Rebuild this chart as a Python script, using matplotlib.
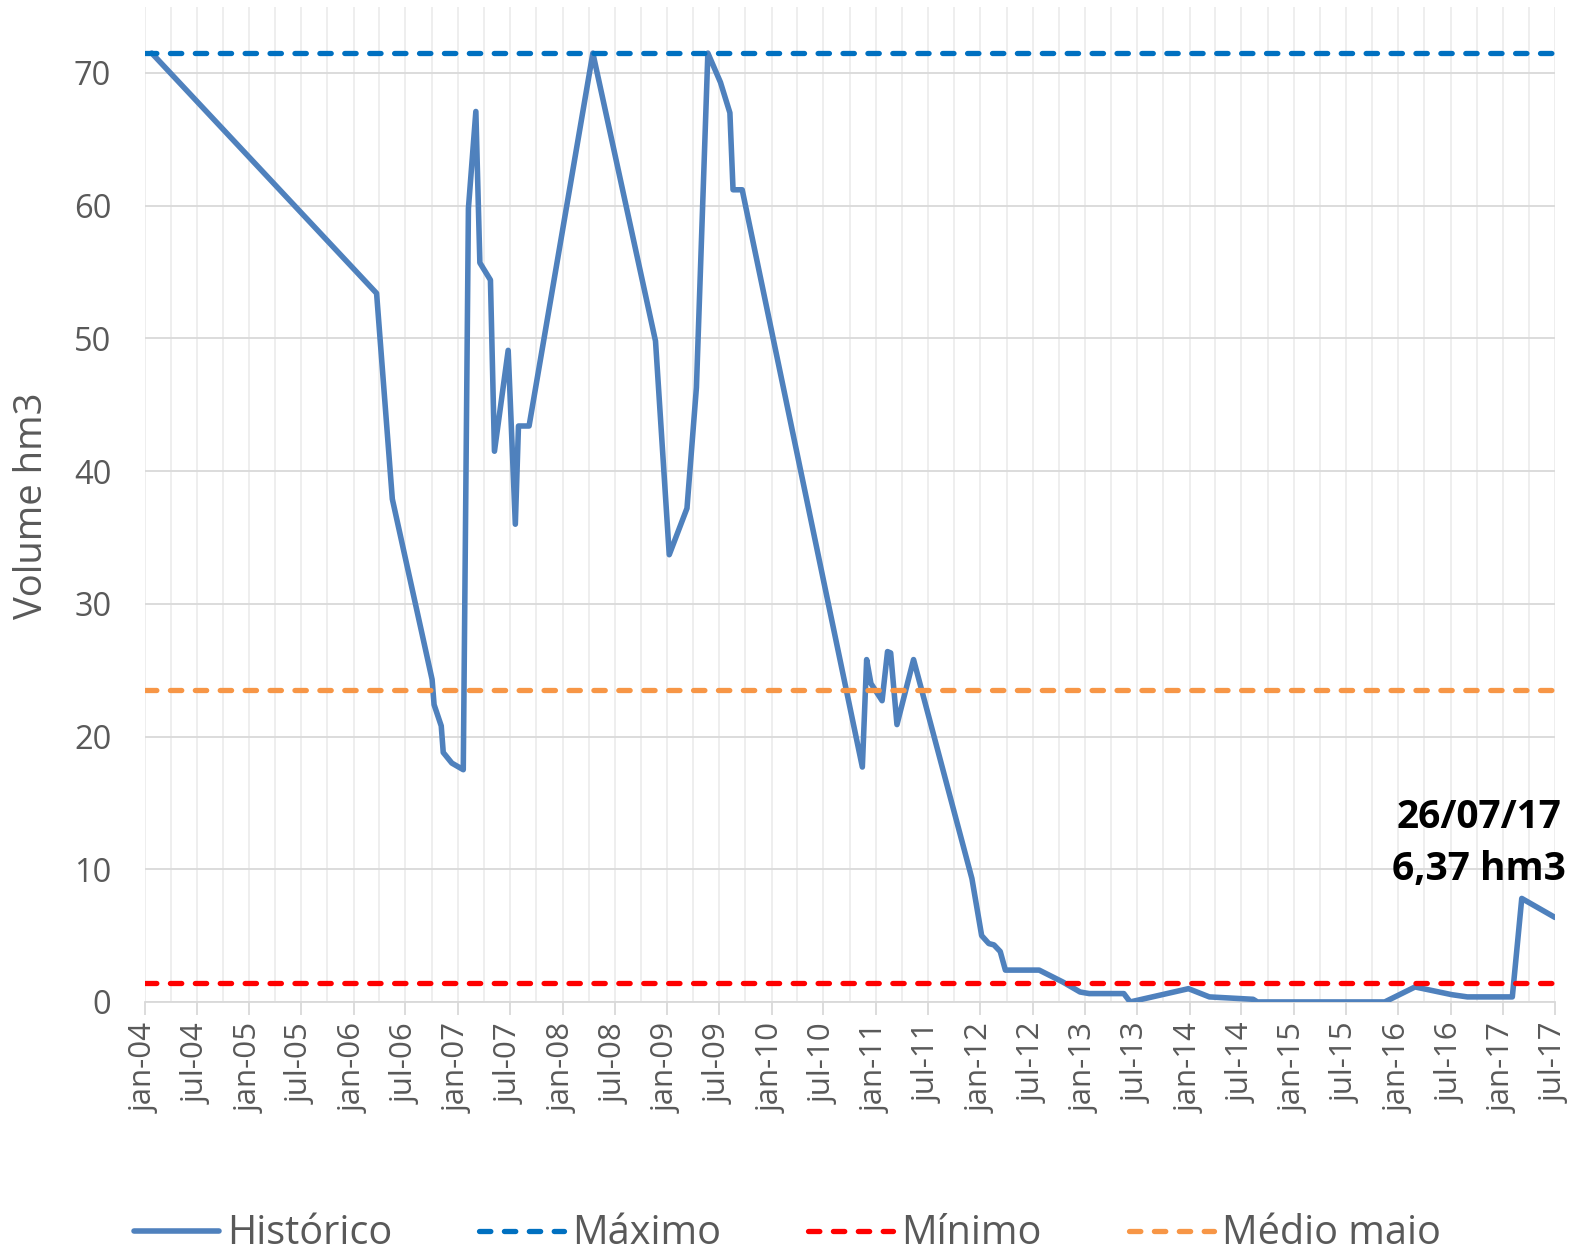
import matplotlib
matplotlib.use("Agg")
import matplotlib.pyplot as plt
import pandas as pd

# ---------------- data ----------------
hist_dates = [
    "2004-02-20", "2006-04-16", "2006-06-10", "2006-10-27", "2006-11-03",
    "2006-11-28", "2006-12-05", "2007-01-04", "2007-02-13", "2007-03-03",
    "2007-03-29", "2007-04-12", "2007-05-19", "2007-06-02", "2007-07-20",
    "2007-08-14", "2007-08-25", "2007-10-01", "2008-05-11", "2008-12-16",
    "2009-02-02", "2009-04-05", "2009-05-08", "2009-06-17", "2009-07-31",
    "2009-09-02", "2009-09-13", "2009-10-15", "2010-12-09", "2010-12-24",
    "2011-01-08", "2011-02-16", "2011-03-07", "2011-03-18", "2011-04-09",
    "2011-06-06", "2011-12-27", "2012-01-30", "2012-02-24", "2012-03-13",
    "2012-04-04", "2012-04-22", "2012-08-18", "2012-11-09", "2013-01-08",
    "2013-02-09", "2013-06-10", "2013-07-02", "2014-01-22", "2014-04-05",
    "2014-09-05", "2014-09-20", "2015-12-09", "2016-03-24", "2016-07-30",
    "2016-09-23", "2017-02-27", "2017-04-01", "2017-07-26",
]
hist_values = [
    71.5, 53.4, 37.9, 24.3, 22.4,
    20.8, 18.8, 18.0, 17.5, 59.8,
    67.1, 55.7, 54.4, 41.5, 49.1,
    36.0, 43.4, 43.4, 71.5, 49.8,
    33.7, 37.2, 46.3, 71.5, 69.3,
    67.0, 61.2, 61.2, 17.7, 25.8,
    24.0, 22.7, 26.4, 26.3, 20.9,
    25.8, 9.3, 5.0, 4.4, 4.3,
    3.8, 2.4, 2.4, 1.5, 0.75,
    0.63, 0.63, 0.0, 1.0, 0.38,
    0.2, 0.0, 0.0, 1.13, 0.55,
    0.38, 0.38, 7.8, 6.37,
]
maximo = 71.5
minimo = 1.4
medio_maio = 23.5
axis_start = "2004-01-26"
axis_end = "2017-07-26"
tick_labels = [
    "jan-04", "jul-04", "jan-05", "jul-05", "jan-06", "jul-06", "jan-07",
    "jul-07", "jan-08", "jul-08", "jan-09", "jul-09", "jan-10", "jul-10",
    "jan-11", "jul-11", "jan-12", "jul-12", "jan-13", "jul-13", "jan-14",
    "jul-14", "jan-15", "jul-15", "jan-16", "jul-16", "jan-17", "jul-17",
]
y_ticks = [0, 10, 20, 30, 40, 50, 60, 70]
annot_text = "26/07/17\n6,37 hm3"
series_names = ["Histórico", "Máximo", "Mínimo", "Médio maio"]

# ---------------- style ----------------
plt.rcParams["font.family"] = ["Open Sans", "DejaVu Sans"]
TXT = "#595959"
GRID_H = "#D9D9D9"
GRID_V = "#EDEDED"

fig = plt.figure(figsize=(15.87, 12.54), dpi=100)
ax = fig.add_axes([0.0911, 0.2010, 0.9798 - 0.0911, 0.9947 - 0.2010])

x_hist = pd.to_datetime(hist_dates)
x_ref = pd.to_datetime([axis_start, axis_end])

dash = (2.15, 2.57)
ax.plot(x_hist, hist_values, color="#4F81BD", lw=4.0,
        solid_joinstyle="round", solid_capstyle="round",
        label=series_names[0], zorder=3)
ax.plot(x_ref, [maximo, maximo], color="#0070C0", lw=3.8, dashes=dash,
        dash_capstyle="round", label=series_names[1], zorder=4)
ax.plot(x_ref, [minimo, minimo], color="#FF0000", lw=3.8, dashes=dash,
        dash_capstyle="round", label=series_names[2], zorder=4)
ax.plot(x_ref, [medio_maio, medio_maio], color="#F79646", lw=3.8, dashes=dash,
        dash_capstyle="round", label=series_names[3], zorder=4)

# axes ranges / ticks
major = pd.date_range(axis_start, periods=len(tick_labels),
                      freq=pd.DateOffset(months=6))
minor = pd.date_range(axis_start, periods=2 * len(tick_labels) - 1,
                      freq=pd.DateOffset(months=3))
ax.set_xlim(x_ref[0], x_ref[1])
ax.set_ylim(0, 75)
ax.set_xticks(major)
ax.set_xticklabels(tick_labels, rotation=90)
ax.set_xticks(minor, minor=True)
ax.set_yticks(y_ticks)

ax.tick_params(axis="x", which="major", length=9, width=1.3, color=GRID_H,
               pad=6, labelsize=22.5, labelcolor=TXT)
ax.tick_params(axis="x", which="minor", length=0)
ax.tick_params(axis="y", length=0, pad=24, labelsize=23.5, labelcolor=TXT)

ax.grid(axis="x", which="both", color=GRID_V, lw=1.3, zorder=0)
ax.grid(axis="y", which="major", color=GRID_H, lw=1.3, zorder=1)
ax.set_axisbelow(True)

for s in ["top", "right", "left"]:
    ax.spines[s].set_visible(False)
ax.spines["bottom"].set_color(GRID_H)
ax.spines["bottom"].set_linewidth(1.3)

fig.text(0.0204, 0.597, "Volume hm3", rotation=90, ha="center", va="center",
         fontsize=27.5, color=TXT)

fig.text(0.932, 0.3275, annot_text, ha="center", va="center",
         multialignment="center", fontsize=28, fontweight="bold",
         color="black", linespacing=1.42)

leg = fig.legend(loc="center", bbox_to_anchor=(0.496, 0.0158), ncol=4,
                 frameon=False, fontsize=28.5, handlelength=2.15,
                 handletextpad=0.2, columnspacing=2.2, labelcolor=TXT,
                 borderpad=0.1)

fig.savefig("out.png", dpi=100, facecolor="white")
